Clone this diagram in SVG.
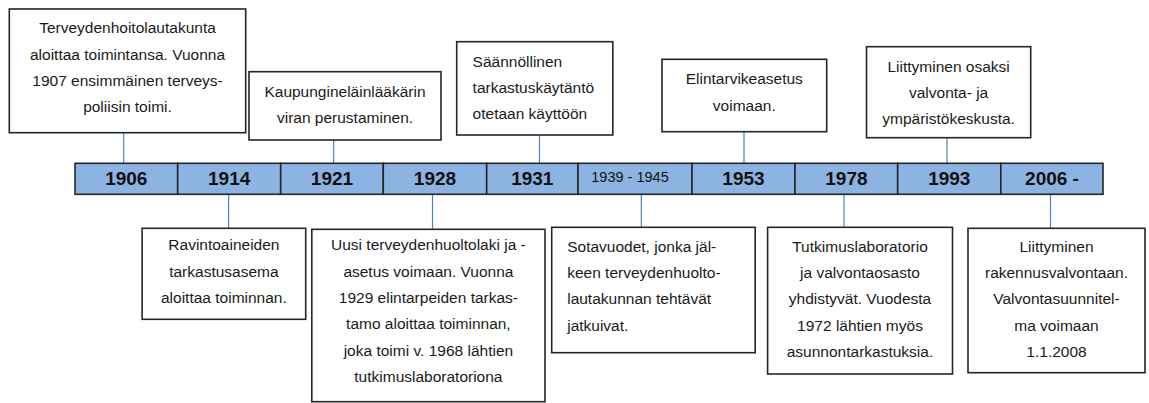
<svg xmlns="http://www.w3.org/2000/svg" width="1149" height="403" viewBox="0 0 1149 403">
<style>
.box{fill:#fff;stroke:#262626;stroke-width:1.6}
.cell{fill:#8db3e2;stroke:#262626;stroke-width:1.6}
.t{font-family:"Liberation Sans",Arial,sans-serif;font-size:15.5px;fill:#1a1a1a}
.c{text-anchor:middle}
.yr{font-family:"Liberation Sans",Arial,sans-serif;font-size:19px;font-weight:bold;fill:#111;text-anchor:middle}
.yrs{font-family:"Liberation Sans",Arial,sans-serif;font-size:14.5px;fill:#111;text-anchor:middle}
.con{stroke:#4f81bd;stroke-width:1.2;fill:none}
</style>
<rect width="1149" height="403" fill="#fff"/>
<g id="connectors">
<line class="con" x1="123.7" y1="132.7" x2="123.7" y2="163.3"/>
<line class="con" x1="333.7" y1="140" x2="333.7" y2="163.3"/>
<line class="con" x1="539.5" y1="135" x2="539.5" y2="163.3"/>
<line class="con" x1="744" y1="131.7" x2="744" y2="163.3"/>
<line class="con" x1="947" y1="137.7" x2="947" y2="163.3"/>
<line class="con" x1="228.6" y1="194.3" x2="228.6" y2="228.3"/>
<line class="con" x1="432.5" y1="194.3" x2="432.5" y2="229.3"/>
<line class="con" x1="641.3" y1="194.3" x2="641.3" y2="227.3"/>
<line class="con" x1="844" y1="194.3" x2="844" y2="227.3"/>
<line class="con" x1="1050.5" y1="194.3" x2="1050.5" y2="228.3"/>
</g>
<g id="timeline">
<g id="y1906"><rect class="cell" x="75" y="163.3" width="102.7" height="31"/><text class="yr" x="126.3" y="185">1906</text></g>
<g id="y1914"><rect class="cell" x="177.7" y="163.3" width="103" height="31"/><text class="yr" x="229.2" y="185">1914</text></g>
<g id="y1921"><rect class="cell" x="280.7" y="163.3" width="102.6" height="31"/><text class="yr" x="332" y="185">1921</text></g>
<g id="y1928"><rect class="cell" x="383.3" y="163.3" width="103.4" height="31"/><text class="yr" x="435" y="185">1928</text></g>
<g id="y1931"><rect class="cell" x="486.7" y="163.3" width="91.3" height="31"/><text class="yr" x="532.3" y="185">1931</text></g>
<g id="y1939"><rect class="cell" x="578" y="163.3" width="114" height="31"/><text class="yrs" x="630" y="181.7">1939 - 1945</text></g>
<g id="y1953"><rect class="cell" x="692" y="163.3" width="103" height="31"/><text class="yr" x="743.5" y="185">1953</text></g>
<g id="y1978"><rect class="cell" x="795" y="163.3" width="102.7" height="31"/><text class="yr" x="846.4" y="185">1978</text></g>
<g id="y1993"><rect class="cell" x="897.7" y="163.3" width="103.1" height="31"/><text class="yr" x="949.3" y="185">1993</text></g>
<g id="y2006"><rect class="cell" x="1000.8" y="163.3" width="102.2" height="31"/><text class="yr" x="1052" y="185">2006 -</text></g>
</g>
<g id="n1906">
<rect class="box" x="9.3" y="9" width="236.4" height="123.7"/>
<text class="t c" x="127.5" y="33.3">Terveydenhoitolautakunta</text>
<text class="t c" x="127.5" y="59.8">aloittaa toimintansa. Vuonna</text>
<text class="t c" x="127.5" y="86.1">1907 ensimmäinen terveys-</text>
<text class="t c" x="127.5" y="112.3">poliisin toimi.</text>
</g>
<g id="n1921">
<rect class="box" x="249" y="71.7" width="192" height="68.3"/>
<text class="t c" x="345" y="96.7">Kaupungineläinlääkärin</text>
<text class="t c" x="345" y="123.2">viran perustaminen.</text>
</g>
<g id="n1931">
<rect class="box" x="456.7" y="41.7" width="156.1" height="93.3"/>
<text class="t" x="472.6" y="66.7">Säännöllinen</text>
<text class="t" x="472.6" y="93.1">tarkastuskäytäntö</text>
<text class="t" x="472.6" y="119.3">otetaan käyttöön</text>
</g>
<g id="n1953">
<rect class="box" x="662" y="59.3" width="164.7" height="72.4"/>
<text class="t c" x="744.3" y="84">Elintarvikeasetus</text>
<text class="t c" x="744.3" y="110.5">voimaan.</text>
</g>
<g id="n1993">
<rect class="box" x="866.5" y="46.7" width="164.2" height="91"/>
<text class="t c" x="948.6" y="71.7">Liittyminen osaksi</text>
<text class="t c" x="948.6" y="97.8">valvonta- ja</text>
<text class="t c" x="948.6" y="124">ympäristökeskusta.</text>
</g>
<g id="n1914">
<rect class="box" x="142.1" y="228.3" width="163.6" height="91"/>
<text class="t c" x="223.9" y="250.2">Ravintoaineiden</text>
<text class="t c" x="223.9" y="276.6">tarkastusasema</text>
<text class="t c" x="223.9" y="302.8">aloittaa toiminnan.</text>
</g>
<g id="n1928">
<rect class="box" x="311.8" y="229.3" width="233.2" height="172.4"/>
<text class="t c" x="428.4" y="250.2">Uusi terveydenhuoltolaki ja -</text>
<text class="t c" x="428.4" y="276.6">asetus voimaan. Vuonna</text>
<text class="t c" x="428.4" y="303">1929 elintarpeiden tarkas-</text>
<text class="t c" x="428.4" y="329.3">tamo aloittaa toiminnan,</text>
<text class="t c" x="428.4" y="355.6">joka toimi v. 1968 lähtien</text>
<text class="t c" x="428.4" y="381.8">tutkimuslaboratoriona</text>
</g>
<g id="n1939">
<rect class="box" x="551.7" y="227.3" width="203.5" height="125.4"/>
<text class="t" x="567.2" y="251.7">Sotavuodet, jonka jäl-</text>
<text class="t" x="567.2" y="278.1">keen terveydenhuolto-</text>
<text class="t" x="567.2" y="304.3">lautakunnan tehtävät</text>
<text class="t" x="567.2" y="330.5">jatkuivat.</text>
</g>
<g id="n1978">
<rect class="box" x="767.6" y="227.3" width="184.9" height="146.7"/>
<text class="t c" x="860" y="251.7">Tutkimuslaboratorio</text>
<text class="t c" x="860" y="278.1">ja valvontaosasto</text>
<text class="t c" x="860" y="304.3">yhdistyvät. Vuodesta</text>
<text class="t c" x="860" y="330.6">1972 lähtien myös</text>
<text class="t c" x="860" y="356.8">asunnontarkastuksia.</text>
</g>
<g id="n2006">
<rect class="box" x="968" y="228.3" width="177" height="144.4"/>
<text class="t c" x="1056.5" y="251.7">Liittyminen</text>
<text class="t c" x="1056.5" y="278.1">rakennusvalvontaan.</text>
<text class="t c" x="1056.5" y="304.3">Valvontasuunnitel-</text>
<text class="t c" x="1056.5" y="330.6">ma voimaan</text>
<text class="t c" x="1056.5" y="356.8">1.1.2008</text>
</g>
</svg>
